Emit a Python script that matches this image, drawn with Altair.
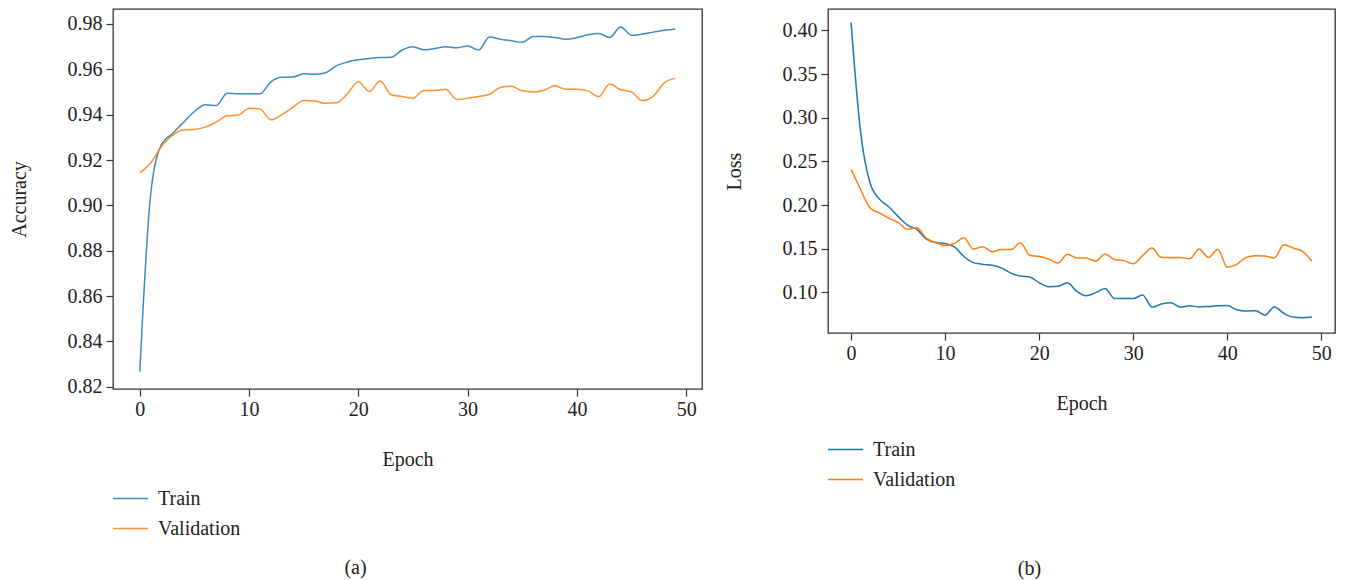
import altair as alt
import pandas as pd

epochs = list(range(50))

train_acc = [0.8266, 0.905, 0.927, 0.9317, 0.9366, 0.9414, 0.9444, 0.9440, 0.9494, 0.9492,
             0.9492, 0.9492, 0.9545, 0.9565, 0.9566, 0.9580, 0.9578, 0.9585, 0.9616, 0.9632,
             0.9642, 0.9648, 0.9652, 0.9653, 0.9685, 0.9700, 0.9686, 0.9692, 0.9700, 0.9695,
             0.9703, 0.9685, 0.9742, 0.9733, 0.9726, 0.9719, 0.9745, 0.9745, 0.9740, 0.9733,
             0.9740, 0.9752, 0.9758, 0.9740, 0.9787, 0.9750, 0.9756, 0.9764, 0.9772, 0.9778]
val_acc = [0.9144, 0.9187, 0.926, 0.931, 0.9332, 0.9335, 0.9345, 0.9368, 0.9395, 0.9398,
           0.9428, 0.9425, 0.9377, 0.9400, 0.9432, 0.9462, 0.9460, 0.9450, 0.9452, 0.9492,
           0.9545, 0.9502, 0.9548, 0.9488, 0.9480, 0.9472, 0.9507, 0.9507, 0.9512, 0.9467,
           0.9472, 0.9480, 0.9490, 0.9520, 0.9525, 0.9505, 0.9500, 0.9508, 0.9527, 0.9512,
           0.9512, 0.9505, 0.9480, 0.9535, 0.9510, 0.9500, 0.9462, 0.9482, 0.9540, 0.9560]
train_loss = [0.409, 0.285, 0.226, 0.207, 0.198, 0.187, 0.177, 0.172, 0.161, 0.157,
              0.156, 0.152, 0.141, 0.134, 0.132, 0.131, 0.128, 0.122, 0.1186, 0.1175,
              0.111, 0.1065, 0.107, 0.111, 0.101, 0.096, 0.0996, 0.1045, 0.093, 0.0928,
              0.0928, 0.097, 0.083, 0.0865, 0.088, 0.083, 0.0845, 0.0833, 0.0838, 0.0845,
              0.0848, 0.080, 0.0785, 0.079, 0.0738, 0.0833, 0.076, 0.0716, 0.071, 0.0716]
val_loss = [0.241, 0.218, 0.197, 0.191, 0.185, 0.180, 0.1723, 0.174, 0.162, 0.157,
            0.1535, 0.156, 0.1625, 0.1496, 0.1523, 0.1465, 0.1489, 0.1489, 0.1568, 0.1425,
            0.141, 0.138, 0.1337, 0.1435, 0.1394, 0.1392, 0.1356, 0.144, 0.1375, 0.1363,
            0.1326, 0.142, 0.1507, 0.1398, 0.1398, 0.1398, 0.1385, 0.1496, 0.140, 0.1489,
            0.1288, 0.132, 0.140, 0.142, 0.1415, 0.1394, 0.1545, 0.1507, 0.147, 0.1356]

series_names = ["Train", "Validation"]
series_colors = ["#1f77b4", "#ff7f0e"]
epoch_ticks = [0, 10, 20, 30, 40, 50]
acc_ticks = [0.82, 0.84, 0.86, 0.88, 0.90, 0.92, 0.94, 0.96, 0.98]
loss_ticks = [0.10, 0.15, 0.20, 0.25, 0.30, 0.35, 0.40]

FONT = "Liberation Serif"
FS = 20


def long_frame(a, b):
    rows = []
    for name, vals in zip(series_names, [a, b]):
        for e, v in zip(epochs, vals):
            rows.append({"Epoch": e, "Value": v, "Series": name})
    return pd.DataFrame(rows)


def panel(df, ytitle, ydomain, yticks, w, h, legend_y, caption, cap_offset, opacity):
    x = alt.X("Epoch:Q",
              scale=alt.Scale(domain=[-2.45, 51.45], nice=False, zero=False),
              axis=alt.Axis(values=epoch_ticks, title="Epoch", format="d", grid=False,
                            domain=False, tickSize=7, labelPadding=3, titlePadding=30))
    y = alt.Y("Value:Q",
              scale=alt.Scale(domain=ydomain, nice=False, zero=False),
              axis=alt.Axis(values=yticks, title=ytitle, format=".2f", grid=False,
                            domain=False, tickSize=7, labelPadding=4, titlePadding=38))
    color = alt.Color("Series:N",
                      scale=alt.Scale(domain=series_names, range=series_colors),
                      legend=alt.Legend(title=None, orient="none", legendX=-1, legendY=legend_y,
                                        direction="vertical", symbolType="stroke",
                                        symbolSize=1225, symbolStrokeWidth=1.5,
                                        labelOffset=9, rowPadding=1, padding=0,
                                        labelFont=FONT, labelFontSize=FS, labelColor="#222"))
    return alt.Chart(df).mark_line(strokeWidth=1.5, interpolate="monotone",
                                   opacity=opacity).encode(
        x=x, y=y, color=color
    ).properties(
        width=w, height=h,
        title=alt.TitleParams(caption, orient="bottom", anchor="middle", frame="bounds",
                              offset=cap_offset, font=FONT, fontSize=FS,
                              fontWeight="normal", color="#222")
    )


left = panel(long_frame(train_acc, val_acc), "Accuracy", [0.819, 0.9866], acc_ticks,
             589, 380, 471, "(a)", 19, 0.85)
right = panel(long_frame(train_loss, val_loss), "Loss", [0.0534, 0.4245], loss_ticks,
              507, 324, 422, "(b)", 69, 1.0)

chart = alt.hconcat(left, right, spacing=20).resolve_scale(
    color="independent", x="independent", y="independent"
).resolve_legend(color="independent").properties(
    padding=0
).configure_view(
    stroke="#333", strokeWidth=1.3
).configure_axis(
    labelFont=FONT, titleFont=FONT, labelFontSize=FS, titleFontSize=FS,
    labelColor="#222", titleColor="#222", tickColor="#333", tickWidth=1.2,
    titleFontWeight="normal"
)

chart.save("out.html", embed_options={"renderer": "svg", "actions": False})
